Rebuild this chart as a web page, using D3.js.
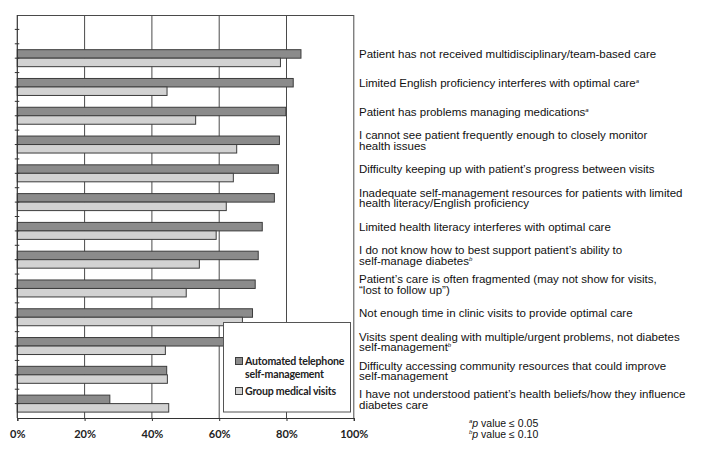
<!DOCTYPE html>
<html>
<head>
<meta charset="utf-8">
<script src="https://cdn.jsdelivr.net/npm/d3@7/dist/d3.min.js"></script>
<style>
  html, body { margin: 0; padding: 0; background: #fff; }
  svg { display: block; }
</style>
</head>
<body>
<svg id="chart" width="719" height="452"></svg>
<script>
// ---- data ----
const categories = [
  "",
  "Patient has not received multidisciplinary/team-based care",
  "Limited English proficiency interferes with optimal care",
  "Patient has problems managing medications",
  "I cannot see patient frequently enough to closely monitor\nhealth issues",
  "Difficulty keeping up with patient\u2019s progress between visits",
  "Inadequate self-management resources for patients with limited\nhealth literacy/English proficiency",
  "Limited health literacy interferes with optimal care",
  "I do not know how to best support patient\u2019s ability  to\nself-manage diabetes",
  "Patient\u2019s care is often fragmented (may not show for visits,\n\u201Clost to follow up\u201D)",
  "Not enough time in clinic visits to provide optimal care",
  "Visits spent dealing with multiple/urgent problems, not diabetes\nself-management",
  "Difficulty accessing community resources that could improve\nself-management",
  "I have not understood patient\u2019s health beliefs/how they influence\ndiabetes care"
];
const notes = ["", "", "a", "a", "", "", "", "", "b", "", "", "b", "", ""];
const seriesNames = ["Automated telephone\nself-management", "Group medical visits"];
const automatedTelephone = [null, 84.3, 82.0, 79.8, 77.9, 77.6, 76.4, 72.8, 71.6, 70.7, 69.9, 66.9, 44.4, 27.5];
const groupMedicalVisits = [null, 78.2, 44.5, 53.0, 65.2, 64.2, 62.1, 59.1, 54.1, 50.2, 66.9, 44.0, 44.6, 45.0];
const xTicks = [0, 20, 40, 60, 80, 100];
const footnotes = [["a", " value \u2264 0.05"], ["b", " value \u2264 0.10"]];

// ---- drawing ----
const svg = d3.select("#chart");
const colors = ["#8b8b8b", "#d2d2d2"];
const strokeCol = "#3c3c3c";

const x = d3.scaleLinear().domain([0, 100]).range([17.3, 353.8]);
const y = d3.scaleBand().domain(d3.range(categories.length))
  .range([15, 418]).paddingInner(0.41).paddingOuter(0.205);
const y1 = d3.scaleBand().domain([0, 1]).range([0, y.bandwidth()]);

const rows = categories.map((c, i) => ({ i, label: c, note: notes[i],
  values: [automatedTelephone[i], groupMedicalVisits[i]] }));

// gridlines
svg.append("g").selectAll("line").data(xTicks.filter(t => t > 0)).join("line")
  .attr("x1", d => x(d)).attr("x2", d => x(d))
  .attr("y1", 15).attr("y2", 418)
  .attr("stroke", "#4a4a4a").attr("stroke-width", 1);
// top border
svg.append("line").attr("x1", x(0)).attr("x2", x(100)).attr("y1", 15.5).attr("y2", 15.5)
  .attr("stroke", "#4a4a4a");

// bars
const g = svg.append("g");
rows.forEach(r => {
  r.values.forEach((v, s) => {
    if (v == null) return;
    g.append("rect")
      .attr("x", x(0)).attr("y", y(r.i) + y1(s))
      .attr("width", x(v) - x(0)).attr("height", y1.bandwidth())
      .attr("fill", colors[s]).attr("stroke", strokeCol).attr("stroke-width", 1);
  });
});

// y axis line and ticks (at band centers and boundaries)
svg.append("line").attr("x1", x(0)).attr("x2", x(0)).attr("y1", 15).attr("y2", 418)
  .attr("stroke", "#333").attr("stroke-width", 1.2);
const tickYs = [];
categories.forEach((c, i) => {
  tickYs.push(y(i) + y.bandwidth() / 2);
  if (i > 0) tickYs.push(y(i) - y.step() * y.paddingInner() / 2);
});
svg.append("g").selectAll("line").data(tickYs).join("line")
  .attr("x1", x(0) - 2.5).attr("x2", x(0) + 2).attr("y1", d => d).attr("y2", d => d)
  .attr("stroke", "#333").attr("stroke-width", 1);

// x axis
const xAxis = svg.append("g").attr("transform", "translate(0,418)")
  .call(d3.axisBottom(x).tickValues(xTicks).tickFormat(d => d + "%").tickSize(3).tickPadding(9));
xAxis.select(".domain").attr("stroke", "#333").attr("stroke-width", 1.2);
xAxis.selectAll(".tick line").attr("stroke", "#333");
xAxis.selectAll("text").attr("font-family", "Lato, 'Open Sans', sans-serif")
  .attr("font-weight", "bold").attr("font-size", 11).attr("fill", "#222");

// category labels
const lab = svg.append("g").attr("font-family", "'Liberation Sans', Arial, sans-serif")
  .attr("font-size", 11.5).attr("fill", "#111");
rows.forEach(r => {
  if (!r.label) return;
  const lines = r.label.split("\n");
  const cy = y(r.i) + y.bandwidth() / 2;
  const lh = 10.6;
  const t = lab.append("text").attr("x", 359)
    .attr("y", cy - (lines.length - 1) * lh / 2).attr("dy", "0.35em");
  lines.forEach((ln, k) => {
    t.append("tspan").attr("x", 359).attr("dy", k === 0 ? 0 : lh).text(ln);
    if (k === lines.length - 1 && r.note) {
      t.append("tspan").attr("font-size", 6).attr("font-style", "italic")
        .attr("dy", -4).text(r.note);
    }
  });
});

// legend
const lg = svg.append("g");
lg.append("rect").attr("x", 223.5).attr("y", 322.5).attr("width", 127).attr("height", 89.5)
  .attr("fill", "#fff").attr("stroke", "#555").attr("stroke-width", 1);
const legY = [357, 387];
seriesNames.forEach((n, s) => {
  lg.append("rect").attr("x", 235.5).attr("y", legY[s] + 0.5).attr("width", 7).attr("height", 7)
    .attr("fill", colors[s]).attr("stroke", strokeCol).attr("stroke-width", 1);
  const t = lg.append("text").attr("font-family", "Lato, 'Open Sans', sans-serif")
    .attr("font-weight", "bold").attr("font-size", 10.6).attr("letter-spacing", -0.2)
    .attr("fill", "#222");
  n.split("\n").forEach((ln, k) => {
    t.append("tspan").attr("x", 245).attr("y", legY[s] + 8 + k * 12.5).text(ln);
  });
});

// footnotes
const fn = svg.append("g").attr("font-family", "'Liberation Sans', Arial, sans-serif")
  .attr("font-size", 10.5).attr("fill", "#111");
footnotes.forEach((f, k) => {
  const t = fn.append("text").attr("x", 469).attr("y", 427 + k * 10.5);
  t.append("tspan").attr("font-size", 6).attr("font-style", "italic").attr("dy", -4).text(f[0]);
  t.append("tspan").attr("font-style", "italic").attr("dy", 4).text("p");
  t.append("tspan").text(f[1]);
});
</script>
</body>
</html>
